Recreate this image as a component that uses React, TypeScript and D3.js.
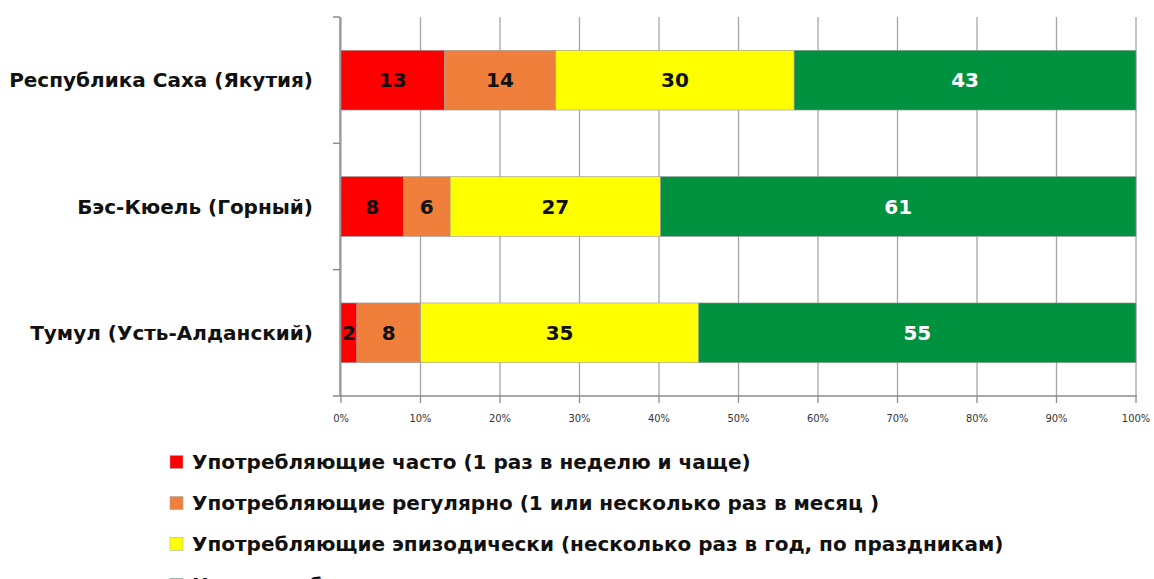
import React, { useEffect, useRef } from 'react';
import * as d3 from 'd3';

// Регионы (сверху вниз)
const regions = ['Республика Саха (Якутия)', 'Бэс-Кюель (Горный)', 'Тумул (Усть-Алданский)'];

// Значения по группам, в том порядке что и regions
const oftenValues = [13, 8, 2];
const regularValues = [14, 6, 8];
const episodicValues = [30, 27, 35];
const neverValues = [43, 61, 55];

const seriesKeys = ['often', 'regular', 'episodic', 'never'];
const seriesNames = [
  'Употребляющие часто (1 раз в неделю и чаще)',
  'Употребляющие регулярно (1 или несколько раз в месяц )',
  'Употребляющие эпизодически (несколько раз в год, по праздникам)',
  'Не употребляющие',
];
const seriesColors = ['#ff0000', '#f07f3c', '#ffff00', '#00923f'];
const labelColors = ['#111', '#111', '#111', '#ffffff'];

const xTicks = [0, 0.1, 0.2, 0.3, 0.4, 0.5, 0.6, 0.7, 0.8, 0.9, 1];

const W = 1154;
const H = 579;
const FONT = '"DejaVu Sans", sans-serif';

export default function App() {
  const ref = useRef<SVGSVGElement | null>(null);

  useEffect(() => {
    document.body.style.margin = '0';
    const svg = d3.select(ref.current);
    svg.selectAll('*').remove();

    const rows = regions.map((r, i) => ({
      region: r,
      often: oftenValues[i],
      regular: regularValues[i],
      episodic: episodicValues[i],
      never: neverValues[i],
    }));

    const stacked = d3.stack<any>().keys(seriesKeys).offset(d3.stackOffsetExpand)(rows);

    const x = d3.scaleLinear().domain([0, 1]).range([341, 1136]);
    const y = d3.scaleBand<string>().domain(regions).range([17, 396]).paddingInner(0.527).paddingOuter(0.2635);

    // сетка
    svg.append('g')
      .selectAll('line')
      .data(xTicks)
      .enter().append('line')
      .attr('x1', d => x(d)).attr('x2', d => x(d))
      .attr('y1', 17).attr('y2', 396)
      .attr('stroke', '#a6a6a6')
      .attr('stroke-width', 1.3);

    // ось Y
    const yAxis = svg.append('g');
    yAxis.append('line')
      .attr('x1', 340).attr('x2', 340).attr('y1', 17).attr('y2', 396)
      .attr('stroke', '#8c8c8c').attr('stroke-width', 1.5);
    const step = y.step();
    yAxis.selectAll('.yt')
      .data(d3.range(regions.length + 1))
      .enter().append('line')
      .attr('x1', 333).attr('x2', 340)
      .attr('y1', i => 17 + i * step).attr('y2', i => 17 + i * step)
      .attr('stroke', '#8c8c8c').attr('stroke-width', 1.5);

    yAxis.selectAll('text')
      .data(regions)
      .enter().append('text')
      .attr('x', 313)
      .attr('y', d => (y(d) as number) + y.bandwidth() / 2)
      .attr('dy', '0.35em')
      .attr('text-anchor', 'end')
      .attr('font-family', FONT)
      .attr('font-weight', 700)
      .attr('font-size', 20)
      .attr('fill', '#111')
      .text(d => d);

    // ось X
    const xAxis = svg.append('g');
    xAxis.append('line')
      .attr('x1', 340).attr('x2', 1137).attr('y1', 396).attr('y2', 396)
      .attr('stroke', '#8c8c8c').attr('stroke-width', 1.5);
    xAxis.selectAll('.xt')
      .data(xTicks)
      .enter().append('line')
      .attr('x1', d => x(d)).attr('x2', d => x(d))
      .attr('y1', 396).attr('y2', 403)
      .attr('stroke', '#8c8c8c').attr('stroke-width', 1.3);
    xAxis.selectAll('text')
      .data(xTicks)
      .enter().append('text')
      .attr('x', d => x(d))
      .attr('y', 418)
      .attr('dy', '0.35em')
      .attr('text-anchor', 'middle')
      .attr('font-family', '"DejaVu Sans Condensed", "DejaVu Sans", sans-serif')
      .attr('font-size', 11)
      .attr('fill', '#333')
      .text(d => d3.format('.0%')(d));

    // бары
    const layers = svg.append('g')
      .selectAll('g')
      .data(stacked)
      .enter().append('g');

    layers.selectAll('rect')
      .data((s: any) => s.map((p: any) => ({ p, si: s.index })))
      .enter().append('rect')
      .attr('x', (d: any) => x(d.p[0]))
      .attr('y', (d: any) => y(d.p.data.region) as number)
      .attr('width', (d: any) => x(d.p[1]) - x(d.p[0]))
      .attr('height', y.bandwidth())
      .attr('fill', (d: any) => seriesColors[d.si])
      .attr('stroke', '#9a9a9a')
      .attr('stroke-width', 0.6);

    layers.selectAll('text')
      .data((s: any) => s.map((p: any) => ({ p, si: s.index, v: p.data[s.key] })))
      .enter().append('text')
      .attr('x', (d: any) => (x(d.p[0]) + x(d.p[1])) / 2)
      .attr('y', (d: any) => (y(d.p.data.region) as number) + y.bandwidth() / 2)
      .attr('dy', '0.35em')
      .attr('text-anchor', 'middle')
      .attr('font-family', FONT)
      .attr('font-weight', 700)
      .attr('font-size', 20)
      .attr('fill', (d: any) => labelColors[d.si])
      .text((d: any) => d.v);

    // легенда (последняя строка, как в оригинале, обрезана краем)
    const legend = svg.append('g');
    const item = legend.selectAll('g')
      .data(seriesNames)
      .enter().append('g')
      .attr('transform', (_, i) => `translate(170, ${462 + i * 41})`);
    item.append('rect')
      .attr('x', 0).attr('y', -6.5).attr('width', 13).attr('height', 13)
      .attr('fill', (_, i) => seriesColors[i])
      .attr('stroke', '#aaa').attr('stroke-width', 0.6);
    item.append('text')
      .attr('x', 22)
      .attr('y', 0)
      .attr('dy', '0.35em')
      .attr('font-family', FONT)
      .attr('font-weight', 700)
      .attr('font-size', 20)
      .attr('fill', '#111')
      .text(d => d);
  }, []);

  return (
    <div style={{ position: 'absolute', left: 0, top: 0, width: W, height: H, overflow: 'hidden', background: '#fff' }}>
      <svg ref={ref} width={W} height={H} style={{ display: 'block' }} />
    </div>
  );
}
